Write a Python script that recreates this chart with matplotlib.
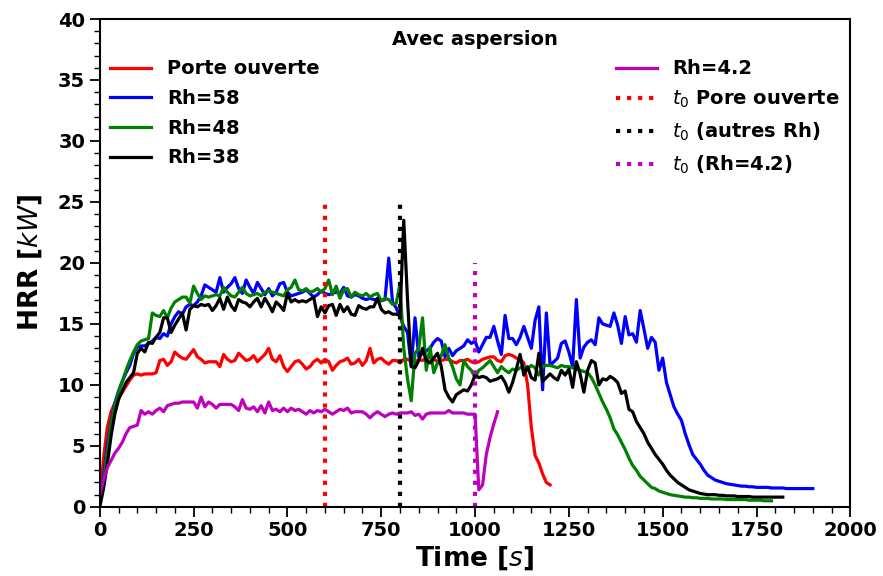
import numpy as np
import matplotlib
matplotlib.use("Agg")
import matplotlib.pyplot as plt
from matplotlib.ticker import MultipleLocator

# HRR curves, one sample every 10 s starting at t = 0
dt = 10

hrr_porte = [
    0.5, 4.0, 6.5, 7.8, 8.5, 9.0, 9.4, 9.9, 10.4, 10.8,
    10.9, 10.8, 10.9, 10.9, 10.9, 11.0, 12.0, 12.1, 11.6, 11.9,
    12.7, 12.4, 12.2, 12.1, 12.5, 12.9, 12.3, 12.1, 11.8, 11.9,
    11.9, 11.9, 11.5, 12.5, 12.1, 11.9, 12.0, 12.6, 12.3, 12.0,
    12.1, 12.4, 11.9, 12.2, 12.5, 13.0, 12.1, 11.9, 12.4, 11.5,
    11.1, 11.5, 11.9, 12.0, 11.7, 11.3, 11.5, 11.9, 12.1, 11.8,
    12.1, 11.9, 11.2, 11.6, 11.9, 12.0, 12.2, 11.7, 11.8, 12.1,
    11.6, 12.0, 13.0, 11.8, 12.1, 12.2, 11.9, 11.7, 12.0, 12.0,
    11.8, 12.1, 12.1, 11.9, 11.8, 12.1, 12.0, 12.2, 12.3, 12.1,
    11.9, 12.0, 12.1, 12.1, 11.9, 11.8, 12.0, 12.0, 12.1, 11.9,
    11.8, 11.9, 12.1, 12.2, 12.3, 12.3, 12.0, 11.9, 12.4, 12.5,
    12.4, 12.2, 12.1, 11.8, 10.0, 6.5, 4.2, 3.6, 2.7, 2.0,
    1.8,
]

hrr_rh58 = [
    0.3, 2.5, 5.0, 7.0, 8.5, 9.5, 10.3, 11.0, 11.6, 12.6,
    13.1, 13.2, 13.2, 13.4, 13.6, 13.9, 13.8, 14.2, 14.0, 15.0,
    15.6, 16.0, 15.8, 16.4, 16.6, 16.5, 16.8, 17.3, 18.2, 18.0,
    17.8, 17.6, 18.8, 17.6, 18.0, 18.3, 18.8, 17.9, 17.5, 18.6,
    18.0, 17.5, 18.4, 17.9, 17.4, 17.9, 17.3, 17.6, 18.3, 18.4,
    17.6, 17.3, 17.4, 17.5, 17.6, 17.8, 17.5, 17.2, 17.4, 17.7,
    17.5, 17.4, 17.5, 17.6, 17.5, 18.0, 17.3, 17.2, 17.4, 17.3,
    17.1, 17.0, 17.1, 17.0, 17.0, 16.9, 17.0, 20.4, 16.8, 16.3,
    15.6, 14.8, 14.3, 11.5, 15.5, 12.3, 12.6, 12.8, 13.0, 13.5,
    13.8, 13.6, 12.3, 13.0, 12.4, 12.8, 13.0, 13.2, 13.7, 13.4,
    13.6, 12.7, 13.3, 13.9, 13.9, 14.8, 13.6, 12.5, 15.7, 13.8,
    13.8, 13.3, 13.9, 14.8, 13.9, 13.0, 15.3, 16.4, 9.6, 15.9,
    11.6, 11.9, 12.2, 13.4, 13.6, 12.7, 11.5, 17.0, 12.2, 13.1,
    13.5, 13.7, 13.3, 15.5, 15.0, 14.9, 14.8, 15.9, 14.9, 13.4,
    15.6, 14.1, 14.2, 13.5, 16.1, 14.6, 13.0, 13.9, 13.5, 11.2,
    12.2, 10.2, 9.2, 8.2, 7.6, 7.1, 6.0, 5.1, 4.3, 3.9,
    3.5, 3.0, 2.6, 2.4, 2.2, 2.1, 2.0, 1.9, 1.85, 1.8,
    1.75, 1.7, 1.7, 1.65, 1.65, 1.6, 1.6, 1.6, 1.6, 1.55,
    1.55, 1.55, 1.55, 1.5, 1.5, 1.5, 1.5, 1.5, 1.5, 1.5,
    1.5,
]

hrr_rh48 = [
    0.5, 2.0, 4.5, 6.8, 8.3, 9.4, 10.3, 11.2, 12.0, 12.7,
    13.3, 13.6, 13.7, 13.8, 15.9, 15.7, 15.6, 16.1, 15.5, 16.3,
    16.8, 17.0, 17.2, 17.2, 16.7, 18.1, 17.5, 17.0, 17.3, 17.2,
    17.3, 17.4, 17.3, 18.0, 17.6, 17.3, 17.2, 17.6, 18.0, 17.5,
    17.3, 17.4, 17.5, 17.3, 17.6, 17.7, 17.6, 17.5, 17.4, 17.3,
    17.8, 18.0, 18.6, 17.8, 17.7, 17.9, 17.6, 17.7, 17.9, 17.6,
    17.9, 18.6, 17.4, 18.1, 17.1, 17.8, 17.9, 17.2, 17.6, 17.4,
    17.3, 17.5, 17.2, 17.4, 17.5, 16.9, 17.1, 17.0, 16.6, 16.7,
    18.3, 13.0, 10.5, 8.7, 12.6, 13.0, 15.5, 11.2, 13.1, 11.0,
    11.8, 12.4, 13.3, 12.2, 11.5, 10.5, 10.0, 12.0, 11.5, 11.2,
    10.6, 11.2, 11.4, 11.7, 12.0, 11.5, 11.0, 11.5, 11.2, 11.0,
    11.3, 11.2, 11.4, 11.5, 11.3, 11.6, 11.4, 10.8, 11.5, 11.6,
    11.6, 11.5, 11.4, 11.6, 11.5, 11.5, 11.4, 11.3, 11.2, 11.1,
    11.0, 10.6, 10.0, 9.3, 8.6, 8.0, 7.3, 6.4, 5.9, 5.3,
    4.7, 4.0, 3.4, 3.0, 2.5, 2.2, 1.9, 1.6, 1.5, 1.3,
    1.2, 1.1, 1.0, 0.95, 0.9, 0.85, 0.8, 0.8, 0.75, 0.75,
    0.7, 0.7, 0.7, 0.65, 0.65, 0.65, 0.65, 0.6, 0.6, 0.6,
    0.6, 0.6, 0.6, 0.55, 0.55, 0.55, 0.55, 0.5, 0.5, 0.5,
]

hrr_rh38 = [
    0.0, 1.5, 3.5, 5.8, 7.6, 8.8, 9.5, 10.2, 10.6, 11.0,
    12.6, 13.0, 12.7, 13.5, 13.4, 13.9, 14.3, 15.5, 15.5, 14.3,
    14.9, 15.4, 15.9, 14.5, 16.2, 16.5, 16.4, 16.6, 16.5, 16.6,
    16.1, 16.5, 17.1, 16.2, 17.2, 16.5, 16.1, 17.0, 16.8, 16.7,
    16.4, 16.8, 17.1, 16.4, 17.1, 16.6, 16.0, 16.8, 16.5, 16.1,
    17.5, 16.8, 17.0, 16.8, 16.9, 16.8, 17.0, 17.2, 15.6, 16.4,
    15.9, 16.5, 16.6, 15.7, 16.6, 16.0, 16.4, 15.8, 15.7, 16.5,
    16.3, 16.2, 16.4, 16.4, 17.1, 16.2, 15.9, 16.0, 15.8, 15.8,
    15.7, 23.5, 17.0, 11.5, 11.4, 12.0, 13.0, 12.0, 11.8, 12.2,
    12.6, 11.5, 9.6, 9.0, 8.6, 9.2, 9.4, 9.6, 9.5, 10.0,
    10.8, 10.6, 10.7, 10.6, 10.3, 10.4, 10.5, 10.7, 10.2, 9.4,
    10.2, 11.3, 12.5, 10.8, 11.5, 10.6, 10.4, 12.6, 10.3, 10.6,
    10.9, 10.6, 10.4, 11.2, 10.8, 11.3, 9.8, 11.9, 10.9, 9.4,
    11.2, 12.0, 11.8, 10.0, 10.5, 10.4, 10.7, 10.5, 10.2, 9.3,
    9.5, 8.0, 7.8, 7.0, 6.5, 6.0, 5.3, 4.8, 4.3, 3.9,
    3.5, 3.0, 2.6, 2.3, 2.0, 1.8, 1.6, 1.4, 1.3, 1.2,
    1.1, 1.05, 1.0, 1.0, 1.0, 0.95, 0.95, 0.9, 0.9, 0.9,
    0.85, 0.85, 0.85, 0.85, 0.8, 0.8, 0.8, 0.8, 0.8, 0.8,
    0.8, 0.8, 0.8,
]

hrr_rh42 = [
    1.0, 2.2, 3.2, 3.8, 4.4, 4.8, 5.3, 6.0, 6.5, 6.6,
    6.7, 7.9, 7.6, 7.8, 7.6, 7.9, 8.1, 7.8, 8.3, 8.4,
    8.5, 8.5, 8.6, 8.6, 8.6, 8.6, 8.1, 9.0, 8.2, 8.6,
    8.4, 8.1, 8.4, 8.4, 8.4, 8.4, 8.2, 7.9, 8.8, 8.1,
    8.0, 8.2, 7.8, 8.3, 7.7, 8.6, 7.9, 8.0, 7.8, 8.1,
    7.8, 8.1, 7.9, 8.0, 7.8, 7.6, 7.9, 7.7, 7.9, 7.8,
    8.0, 7.8, 7.6, 7.8, 8.0, 7.9, 8.1, 7.7, 7.8, 7.8,
    7.8, 7.6, 7.3, 7.6, 7.8, 7.6, 7.4, 7.6, 7.7, 7.6,
    7.7, 7.7, 7.7, 7.8, 7.5, 7.6, 7.2, 7.6, 7.7, 7.7,
    7.7, 7.7, 7.7, 7.9, 7.7, 7.7, 7.7, 7.7, 7.6, 7.6,
    7.6, 1.4, 1.8, 4.3, 5.7, 6.8, 7.8,
]

# start of sprinkler activation
t0_porte = 600
t0_autres = 800
t0_rh42 = 1000
t0_height = [25, 25, 20]

series = [
    (hrr_porte, 'r', 'Porte ouverte'),
    (hrr_rh58, 'b', 'Rh=58'),
    (hrr_rh48, 'g', 'Rh=48'),
    (hrr_rh38, 'k', 'Rh=38'),
    (hrr_rh42, 'm', 'Rh=4.2'),
]

fig = plt.figure(figsize=(8.83, 5.76), dpi=100)
ax = fig.add_axes([0.113, 0.12, 0.85, 0.847])

for vals, c, lab in series:
    t = np.arange(len(vals)) * dt
    ax.plot(t, vals, color=c, lw=2.3, label=lab)

ax.plot([t0_porte, t0_porte], [0, t0_height[0]], color='r', ls=':', lw=3,
        label=r'$t_0$ Pore ouverte')
ax.plot([t0_autres, t0_autres], [0, t0_height[1]], color='k', ls=':', lw=3,
        label=r'$t_0$ (autres Rh)')
ax.plot([t0_rh42, t0_rh42], [0, t0_height[2]], color='m', ls=':', lw=3,
        label=r'$t_0$ (Rh=4.2)')

ax.set_xlim(0, 2000)
ax.set_ylim(0, 40)
ax.xaxis.set_major_locator(MultipleLocator(250))
ax.xaxis.set_minor_locator(MultipleLocator(50))
ax.yaxis.set_major_locator(MultipleLocator(5))
ax.yaxis.set_minor_locator(MultipleLocator(1))
ax.tick_params(which='major', length=7, width=1.3, labelsize=14)
ax.tick_params(which='minor', length=4, width=1.0)
for lbl in ax.get_xticklabels() + ax.get_yticklabels():
    lbl.set_fontweight('bold')
for sp in ax.spines.values():
    sp.set_linewidth(1.5)

ax.set_xlabel(r'Time [$s$]', fontsize=19, fontweight='bold', labelpad=3)
ax.set_ylabel(r'HRR [$kW$]', fontsize=19, fontweight='bold', labelpad=10)

leg = ax.legend(ncol=2, loc='upper left', bbox_to_anchor=(0.0, 0.0, 1.0, 1.0),
                mode='expand', frameon=False, title='Avec aspersion',
                prop={'weight': 'bold', 'size': 14},
                title_fontproperties={'weight': 'bold', 'size': 14},
                labelspacing=0.55, handlelength=2.1, borderaxespad=0.15)

fig.savefig('out.png', dpi=100)
